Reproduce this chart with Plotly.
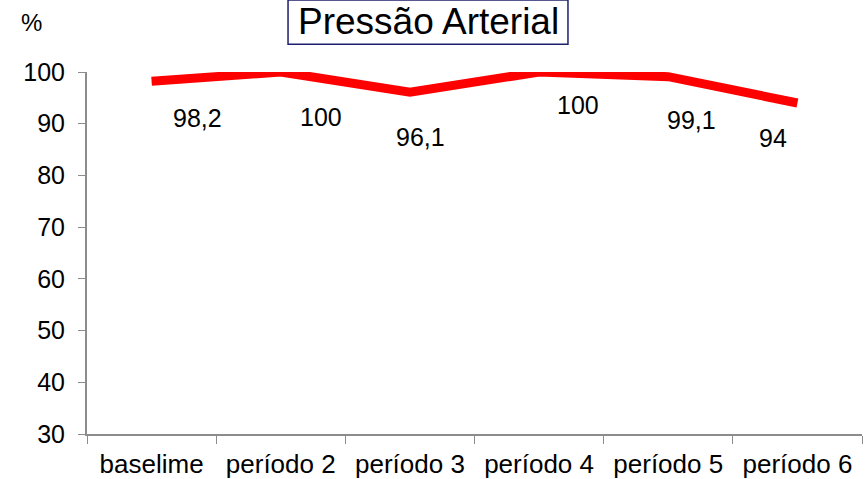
import plotly.graph_objects as go

# Blood pressure compliance (%) per study period
periods = ["baselime", "período 2", "período 3", "período 4", "período 5", "período 6"]
values = [98.2, 100, 96.1, 100, 99.1, 94]

# Pixel offsets for each value label relative to its point
label_dx = [46, 40, 11, 39, 23, -24]
label_dy = [-37, -45, -45, -33, -43, -35]

FONT = "Liberation Sans, Arial, sans-serif"
AXIS_GRAY = "#8c8c8c"

fig = go.Figure()
fig.add_trace(go.Scatter(
    x=periods, y=values, mode="lines",
    line=dict(color="#ff0000", width=9),
    hoverinfo="skip", showlegend=False,
))

for p, v, dx, dy in zip(periods, values, label_dx, label_dy):
    fig.add_annotation(
        x=p, y=v, text=f"{v:g}".replace(".", ","), showarrow=False,
        xshift=dx, yshift=dy, font=dict(family=FONT, size=25, color="black"),
    )

# Framed chart title
fig.add_shape(
    type="rect", xref="paper", yref="paper",
    x0=0.2594, x1=0.6206, y0=1.077, y1=1.199,
    line=dict(color="#1f1f6e", width=1.5), fillcolor="white", layer="above",
)
fig.add_annotation(
    xref="paper", yref="paper", x=0.44, y=1.14, text="Pressão Arterial",
    showarrow=False, font=dict(family=FONT, size=37, color="black"),
    xanchor="center", yanchor="middle",
)
fig.add_annotation(
    xref="paper", yref="paper", x=-0.071, y=1.138, text="%",
    showarrow=False, font=dict(family=FONT, size=24, color="black"),
    xanchor="center", yanchor="middle",
)

fig.update_layout(
    width=868, height=479,
    margin=dict(l=87, r=6, t=72, b=45),
    plot_bgcolor="white", paper_bgcolor="white",
    font=dict(family=FONT, size=25, color="black"),
    xaxis=dict(
        type="category", tickson="boundaries", ticks="outside", ticklen=8,
        tickcolor=AXIS_GRAY, showline=True, linecolor=AXIS_GRAY, linewidth=2,
        showgrid=False, tickfont=dict(size=26), range=[-0.5, 5.5],
        ticklabelstandoff=6, automargin=False,
    ),
    yaxis=dict(
        range=[30, 100], dtick=10, ticks="outside", ticklen=7,
        tickcolor=AXIS_GRAY, showline=True, linecolor=AXIS_GRAY, linewidth=2,
        showgrid=False, zeroline=False, tickfont=dict(size=25),
        ticklabelstandoff=8, automargin=False,
    ),
)

fig.write_html("out.html")
